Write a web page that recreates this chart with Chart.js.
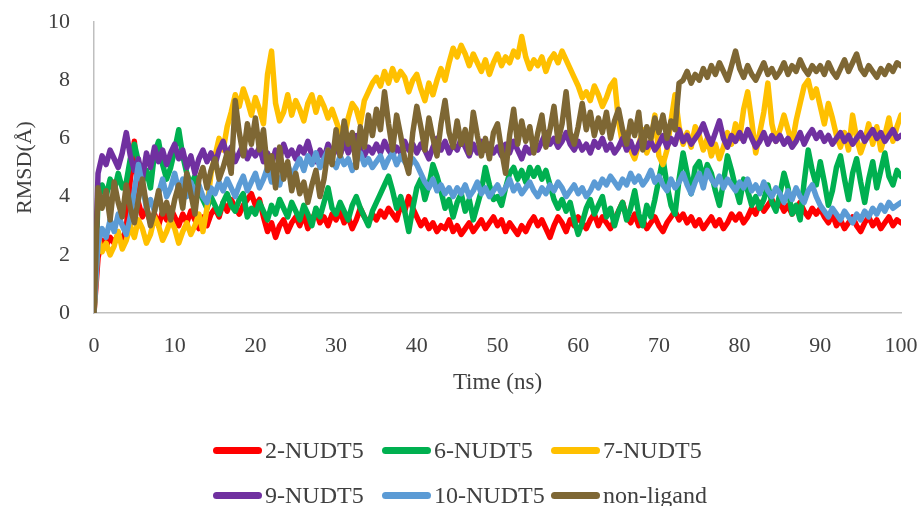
<!DOCTYPE html>
<html>
<head>
<meta charset="utf-8">
<script src="https://cdn.jsdelivr.net/npm/chart.js@4.4.0/dist/chart.umd.min.js"></script>
<style>
  html, body { margin: 0; padding: 0; background: #fff; }
  #wrap { position: relative; width: 919px; height: 506px; }
  #legend {
    position: absolute; left: 213px; top: 428px;
    display: grid; grid-template-columns: 169px 169px 169px; grid-auto-rows: 45px;
    font-family: "Liberation Serif", serif; font-size: 24px; color: #404040;
  }
  .item { display: flex; align-items: center; white-space: nowrap; }
  .mark { width: 49px; height: 7px; border-radius: 4px; margin-right: 3px; }
</style>
</head>
<body>
<div id="wrap">
  <canvas id="rmsd-chart" width="919" height="506"></canvas>
  <div id="legend"></div>
</div>
<script>
const seriesNames = ['2-NUDT5', '6-NUDT5', '7-NUDT5', '9-NUDT5', '10-NUDT5', 'non-ligand'];
const seriesColors = ['#FF0000', '#00B050', '#FFC000', '#7030A0', '#5B9BD5', '#7E6734'];
const xTicks = [0, 10, 20, 30, 40, 50, 60, 70, 80, 90, 100];
const yTicks = [0, 2, 4, 6, 8, 10];

// RMSD samples every 0.5 ns, 0 .. 100 ns
const nudt2 = [
  0, 1.9, 2.5, 2.3, 2.6, 2.4, 2.7, 2.5, 2.9, 4.6,
  5.9, 3.8, 3.3, 3.6, 3.1, 3.4, 3.0, 3.5, 3.2, 3.6,
  3.3, 3.0, 3.4, 3.1, 3.5, 3.2, 2.9, 3.3, 3.0, 3.4,
  3.6, 3.3, 3.8, 3.5, 3.9, 3.6, 3.4, 3.7, 3.9, 4.1,
  3.7, 3.9, 3.3, 2.8, 3.1, 2.6, 3.0, 3.2, 2.8, 3.1,
  3.3, 3.0, 3.4, 2.9, 3.2, 3.5, 3.1, 3.3, 3.0, 3.4,
  3.2, 3.5, 3.1, 3.3, 2.9, 3.2, 3.6, 3.3, 3.1, 3.4,
  3.2, 3.5, 3.3, 3.6, 3.4, 3.2, 3.7, 3.5, 4.0, 3.6,
  3.3, 3.0, 3.2, 2.9, 3.1, 2.8, 3.0, 2.9, 3.2, 2.8,
  3.0, 2.7, 2.9, 3.1, 2.8, 3.0, 3.2, 2.9, 3.1, 3.3,
  3.0, 3.2, 2.8, 3.1, 2.9, 2.7, 3.0, 2.8, 3.1, 3.3,
  3.0, 3.2, 2.9, 2.6, 3.0, 3.3, 3.1, 2.8, 3.2, 3.0,
  3.3, 3.1, 2.9, 3.2, 3.4, 3.0, 3.3, 3.1, 2.9, 3.2,
  3.5, 3.8, 3.3, 3.1, 3.4, 3.0, 3.2, 2.9, 3.1, 3.3,
  3.0, 2.8, 3.1, 3.3, 3.5, 3.2, 3.4, 3.1, 3.3, 3.0,
  3.2, 2.9, 3.1, 3.3, 3.0, 3.2, 2.9, 3.1, 3.4, 3.2,
  3.4, 3.1, 3.3, 3.6, 3.4, 3.8, 3.5, 3.7, 3.9, 3.6,
  3.8, 3.5, 3.7, 3.4, 3.6, 3.8, 3.5, 3.3, 3.6, 3.4,
  3.6, 3.3, 3.1, 3.4, 3.0, 3.2, 2.9, 3.1, 3.3, 3.0,
  2.8, 3.1, 3.3, 3.0, 3.2, 2.9, 3.1, 3.3, 3.0, 3.2,
  3.1
];
const nudt6 = [
  0, 3.9, 4.4, 4.0, 4.6, 4.2, 4.8, 4.3, 4.5, 5.3,
  5.8, 5.2, 4.5, 4.9, 4.3, 5.5, 5.9, 5.1, 4.6, 5.0,
  5.6, 6.3, 5.4, 4.8, 4.4, 4.7, 4.2, 3.9, 3.6, 4.0,
  3.7, 3.4, 3.8, 4.1, 3.7, 3.5, 3.9, 4.1, 3.3, 3.6,
  3.4, 3.8, 3.5, 3.2, 3.7, 3.4, 3.9, 3.6, 3.3, 3.8,
  3.5, 3.2, 3.7, 3.4, 3.0, 3.6, 3.3, 3.8, 4.3, 3.6,
  3.4, 3.8, 3.5, 3.2, 3.7, 4.0, 3.6, 3.3, 3.0, 3.5,
  3.8, 4.1, 4.4, 4.7, 4.2, 3.6, 4.0, 3.5, 2.8, 3.6,
  4.3, 4.6, 3.9, 4.4, 5.1, 4.7, 4.2, 3.6, 3.9, 3.3,
  3.8, 4.1, 3.5, 3.9, 3.2, 3.7, 4.2, 5.0, 4.4, 3.9,
  4.0, 3.7, 4.3, 4.8, 5.0, 4.6, 4.9, 4.5, 5.0, 4.7,
  5.0, 4.6, 4.9, 4.4, 3.9, 3.6, 3.9, 3.5, 3.8, 3.2,
  2.7, 3.1, 3.6, 3.9, 3.4, 3.7, 4.0, 3.3, 3.6, 3.0,
  3.5, 3.8, 3.2, 3.6, 4.2, 3.4, 3.0, 3.7, 3.3, 3.9,
  4.6, 5.3, 4.4, 3.7, 3.4, 4.6, 5.5, 4.8, 4.1, 5.0,
  5.2, 4.6, 5.1, 4.8, 4.2, 3.7, 4.5, 5.4, 4.9, 4.3,
  3.8, 4.6, 4.2, 3.7, 4.0, 3.6, 3.9, 4.4, 3.8, 3.5,
  4.1, 4.8, 4.3, 3.4, 3.7, 3.2, 4.5, 5.6, 4.9, 4.4,
  5.2, 4.5, 3.7, 4.2, 5.0, 5.4, 4.6, 3.9, 4.8, 5.3,
  4.5, 3.8, 4.6, 5.2, 4.3, 4.9, 5.5, 4.7, 4.4, 4.9,
  4.7
];
const nudt7 = [
  0, 2.6, 2.1, 2.4, 2.0, 2.3, 2.8, 2.2, 2.5, 3.0,
  2.6, 3.2, 2.9, 2.4, 2.7, 3.3, 3.0, 2.5, 2.8, 3.2,
  2.9, 2.4, 2.8, 3.1, 2.7, 3.0, 3.4, 2.8, 3.6, 4.8,
  5.4, 6.0, 5.6, 6.4, 6.9, 7.5, 7.1, 7.7, 7.3, 6.8,
  7.4, 7.0, 6.5, 8.2, 9.0, 7.2, 6.6, 6.9, 7.5, 6.8,
  7.3, 7.0, 6.6, 7.2, 7.5, 6.9, 7.4, 7.1, 6.7, 7.0,
  6.6, 6.2, 6.0, 6.7, 7.2, 7.0, 6.5, 7.3, 7.6, 7.9,
  8.1, 7.8, 8.3, 7.9, 8.4, 8.0, 8.3, 8.1, 7.6, 8.0,
  8.2, 7.7, 7.3, 7.9, 7.5, 8.0, 8.4, 8.0, 8.6, 9.1,
  8.8, 9.2, 8.9, 8.5, 8.9, 8.6, 8.3, 8.7, 8.2, 8.6,
  8.9, 8.5, 8.8, 8.6, 9.0, 8.8, 9.5, 8.8, 8.4, 8.7,
  8.5, 8.8, 8.3, 8.7, 8.9, 8.6, 9.0, 8.7, 8.4, 8.1,
  7.8, 7.4, 7.6, 7.3, 7.8, 7.5, 7.1, 7.4, 7.8, 8.0,
  6.6, 5.8, 6.2, 5.6, 5.3, 5.8, 6.3, 5.5, 5.9, 6.8,
  5.4, 5.1, 5.6, 6.6, 7.5, 6.4, 5.8, 6.2, 5.7, 6.4,
  6.1, 5.6, 6.0, 5.4, 5.8, 5.3, 5.7, 6.2, 5.8, 6.5,
  6.0, 7.0, 7.6, 6.6, 5.5, 6.2, 6.9, 7.9, 6.5, 5.9,
  6.3, 6.8, 6.3, 5.8, 6.6, 7.2, 7.8, 8.0, 7.4, 7.7,
  7.1, 6.5, 7.2, 6.7, 6.1, 5.7, 6.2, 5.6, 6.8, 6.0,
  5.5, 5.9, 6.5, 5.8, 6.4, 5.6, 6.1, 6.7, 5.9, 6.4,
  6.8
];
const nudt9 = [
  0, 4.8, 5.4, 5.1, 5.6, 5.3, 5.0, 5.5, 6.2, 5.4,
  4.9, 5.3, 4.6, 5.5, 5.0, 5.7, 5.2, 5.6, 5.1, 5.5,
  5.8, 5.3, 5.6, 5.0, 5.4, 4.8, 5.3, 5.6, 5.2, 5.5,
  5.1, 5.6, 5.9, 5.4, 5.7, 5.2, 5.5, 5.8, 5.3, 5.6,
  5.4, 5.7, 5.2, 5.5, 5.1, 5.6, 5.3, 5.8, 5.4, 5.6,
  5.3, 5.7, 5.5, 5.9, 5.4, 5.2, 5.6, 5.3, 5.8, 5.5,
  5.7, 5.4, 5.9, 5.5, 5.8, 6.1, 5.6, 5.4, 5.7, 5.5,
  5.8, 5.5, 5.9, 5.6, 5.4, 5.7, 5.5, 5.9, 5.6, 5.8,
  5.5, 5.8, 5.6, 5.3, 5.7, 6.0, 5.6, 5.9, 5.5, 5.8,
  5.6, 6.0, 5.7, 5.4, 5.8, 5.5, 5.9, 5.6, 5.8, 5.5,
  5.7, 5.4, 5.8, 5.5, 5.9, 5.6, 5.3, 5.7, 5.5, 5.8,
  5.6, 5.9, 6.2, 5.8, 6.0, 5.7, 5.9, 6.2, 5.8, 5.6,
  5.9, 5.6, 5.8, 5.5, 5.9, 5.7, 6.0, 5.6, 5.8, 5.5,
  5.7, 6.0, 5.6, 5.9, 5.5, 5.8, 6.1, 5.7, 5.9, 5.6,
  5.8, 6.1, 5.7, 6.0, 5.8, 6.3, 5.9, 6.1, 5.8, 6.0,
  6.2, 6.5, 6.1, 5.8, 6.2, 6.6, 6.0, 5.7, 6.1, 5.9,
  6.2, 5.9, 6.3, 6.0, 5.7, 5.9, 6.2, 5.8, 6.1, 5.9,
  6.1, 5.8, 6.0, 5.7, 5.9, 6.2, 5.8, 6.1, 6.3, 6.0,
  6.2, 5.9, 6.1, 5.8, 6.0, 6.2, 5.9, 6.1, 5.8, 6.0,
  6.2, 5.9, 6.1, 6.3, 6.0, 6.2, 5.9, 6.1, 6.3, 6.0,
  6.1
];
const nudt10 = [
  0, 2.4, 2.9, 2.6, 3.2, 2.8, 3.4, 3.0, 2.7, 3.3,
  4.2, 5.1, 4.4, 3.6, 3.9, 3.5, 4.1, 4.6, 4.0, 4.3,
  4.8, 4.2, 4.6, 4.0, 4.5, 4.1, 4.4, 4.0, 3.8, 4.3,
  4.1, 4.5, 4.2, 4.6, 4.3, 4.0, 4.4, 4.7, 4.2, 4.5,
  4.8, 4.3, 4.6, 5.0, 4.5, 4.8, 4.4, 4.9, 5.1, 4.7,
  5.0, 5.3, 4.9, 5.4, 5.1, 5.5, 5.0, 5.3, 5.6, 5.2,
  5.0, 5.4, 5.1, 5.3, 4.9, 5.2, 5.5, 5.1, 5.3, 5.0,
  5.2, 5.4, 5.0, 5.3, 5.5, 5.1, 5.4, 5.2, 5.0, 5.3,
  5.1, 4.8, 4.5, 4.3, 4.6, 4.2, 4.4, 4.1, 4.3, 4.0,
  4.3, 4.1, 4.4, 4.0, 4.2, 4.5, 4.1, 4.3, 4.0, 4.2,
  4.4, 4.1, 4.3, 4.6, 4.2, 4.4, 4.1, 4.3, 4.5, 4.2,
  4.0, 4.3, 4.1, 4.4, 4.2, 4.5, 4.3, 4.0, 4.2, 4.4,
  4.1, 4.3, 4.0, 4.2, 4.5, 4.3, 4.6, 4.4, 4.7, 4.5,
  4.3, 4.6, 4.4, 4.8, 4.5, 4.7, 4.4, 4.6, 4.9, 4.5,
  4.7, 4.4, 4.2, 4.6, 4.3, 4.5, 4.8, 4.4, 4.1, 4.5,
  4.8, 4.3, 4.9, 4.6, 4.4, 4.7, 4.3, 4.6, 4.4, 4.2,
  4.5, 4.3, 4.6, 4.2, 4.4, 4.1, 4.5, 4.2, 4.0, 4.3,
  4.1, 3.8, 4.2, 3.9, 4.3, 4.0, 3.8, 4.2, 4.4, 4.0,
  3.7, 3.5, 3.3, 3.6, 3.4, 3.2, 3.5, 3.3, 3.1, 3.4,
  3.2, 3.5, 3.3, 3.6, 3.4, 3.7, 3.5, 3.8, 3.6, 3.7,
  3.8
];
const nonLigand = [
  0, 4.3, 3.6, 4.2, 3.2, 4.5, 3.8, 3.3, 4.4, 3.6,
  3.1, 3.9, 4.6, 3.7, 3.0, 3.5, 4.2, 3.4, 3.8, 3.2,
  3.9, 4.4, 3.6, 4.8, 4.1, 3.4, 4.6, 5.0, 4.3, 4.9,
  5.3, 4.6, 5.0, 5.5, 4.8, 7.3, 6.2, 5.4, 6.5, 5.8,
  6.7, 5.6, 6.3, 4.9, 5.4, 4.3, 5.7, 4.6, 5.2, 4.2,
  4.8, 4.1, 4.5, 3.8, 4.4, 4.9, 4.0, 4.6, 5.6, 5.1,
  6.3, 5.4, 6.6, 5.8, 6.2, 5.0, 6.4, 5.7, 6.8, 6.1,
  7.0, 6.3, 7.6, 6.5, 5.6, 6.8, 6.1, 5.3, 4.8, 6.2,
  7.1, 6.4, 5.6, 6.7, 6.0, 5.4, 6.5, 7.3, 6.2, 5.7,
  6.6, 5.8, 6.3, 5.5, 6.9, 6.1, 5.4, 6.0, 5.3, 6.2,
  6.5, 5.6, 4.8, 6.1, 7.0, 5.8, 6.6, 5.9, 6.4, 5.5,
  6.2, 6.8, 5.7, 6.3, 7.1, 5.9, 6.5, 7.6, 6.2, 5.8,
  6.4, 7.2, 6.3, 6.9, 6.1, 6.7, 6.2, 6.9, 6.0, 6.6,
  7.0, 6.3, 5.8, 6.6, 6.1, 6.9, 5.6, 6.4, 6.0, 6.7,
  6.2, 6.8, 6.0, 6.6, 6.3, 7.9, 8.0, 8.3, 7.9, 8.2,
  8.0, 8.4, 8.1, 8.5, 8.2, 8.6, 8.3, 8.0, 8.5, 9.0,
  8.4, 8.1, 8.5, 8.2, 8.0, 8.3, 8.6, 8.2, 8.4, 8.1,
  8.3, 8.6, 8.2, 8.5, 8.3, 8.7, 8.4, 8.2, 8.5, 8.3,
  8.5, 8.2, 8.6, 8.3, 8.1, 8.4, 8.7, 8.3, 8.6, 8.9,
  8.4, 8.2, 8.5, 8.3, 8.1, 8.4, 8.2, 8.5, 8.3, 8.6,
  8.5
];

const seriesValues = [nudt2, nudt6, nudt7, nudt9, nudt10, nonLigand];
const sampleStep = 0.5; // ns between frames
const timeNs = nudt2.map((_, i) => i * sampleStep);

const serif = '"Liberation Serif", serif';
const textColor = '#404040';
const axisColor = '#bfbfbf';

// fixed axis boxes so the plot area lands where the original has it
function fixBox(size, horizontal) {
  return s => {
    if (horizontal) s.height = size; else s.width = size;
    s.paddingLeft = s.paddingRight = s.paddingTop = s.paddingBottom = 0;
  };
}

const datasets = seriesNames.map((name, i) => ({
  label: name,
  data: seriesValues[i].map((v, k) => ({ x: timeNs[k], y: v })),
  borderColor: seriesColors[i],
  backgroundColor: seriesColors[i],
  borderWidth: 5.5,
  borderJoinStyle: 'round',
  borderCapStyle: 'round',
  pointRadius: 0,
  tension: 0,
  fill: false,
  order: seriesNames.length - i   // later series drawn on top, like the original
}));

new Chart(document.getElementById('rmsd-chart'), {
  type: 'line',
  data: { datasets },
  options: {
    responsive: false,
    animation: false,
    layout: { padding: { left: 0, right: 18, top: 22, bottom: 103 } },
    plugins: { legend: { display: false }, tooltip: { enabled: false } },
    scales: {
      x: {
        type: 'linear', min: 0, max: 100,
        afterBuildTicks: s => { s.ticks = xTicks.map(v => ({ value: v })); },
        afterFit: fixBox(90, true),
        grid: { display: false, drawTicks: false },
        border: { color: axisColor, width: 1.5 },
        ticks: { font: { family: serif, size: 22 }, color: textColor, padding: 20, maxRotation: 0, autoSkip: false },
        title: { display: true, text: 'Time (ns)', color: textColor,
                 font: { family: serif, size: 23 }, padding: { top: 0, bottom: 6 } }
      },
      y: {
        min: 0, max: 10,
        afterBuildTicks: s => { s.ticks = yTicks.map(v => ({ value: v })); },
        afterFit: fixBox(94, false),
        grid: { display: false, drawTicks: false },
        border: { color: axisColor, width: 1.5 },
        ticks: { font: { family: serif, size: 22 }, color: textColor, padding: 24 },
        title: { display: true, text: 'RMSD(Å)', color: textColor,
                 font: { family: serif, size: 22 }, padding: { top: 12, bottom: 0 } }
      }
    }
  }
});

// legend laid out in two rows of three, as in the original
const legendBox = document.getElementById('legend');
seriesNames.forEach((name, i) => {
  const item = document.createElement('div');
  item.className = 'item';
  const mark = document.createElement('span');
  mark.className = 'mark';
  mark.style.background = seriesColors[i];
  const label = document.createElement('span');
  label.textContent = name;
  item.appendChild(mark);
  item.appendChild(label);
  legendBox.appendChild(item);
});
</script>
</body>
</html>
